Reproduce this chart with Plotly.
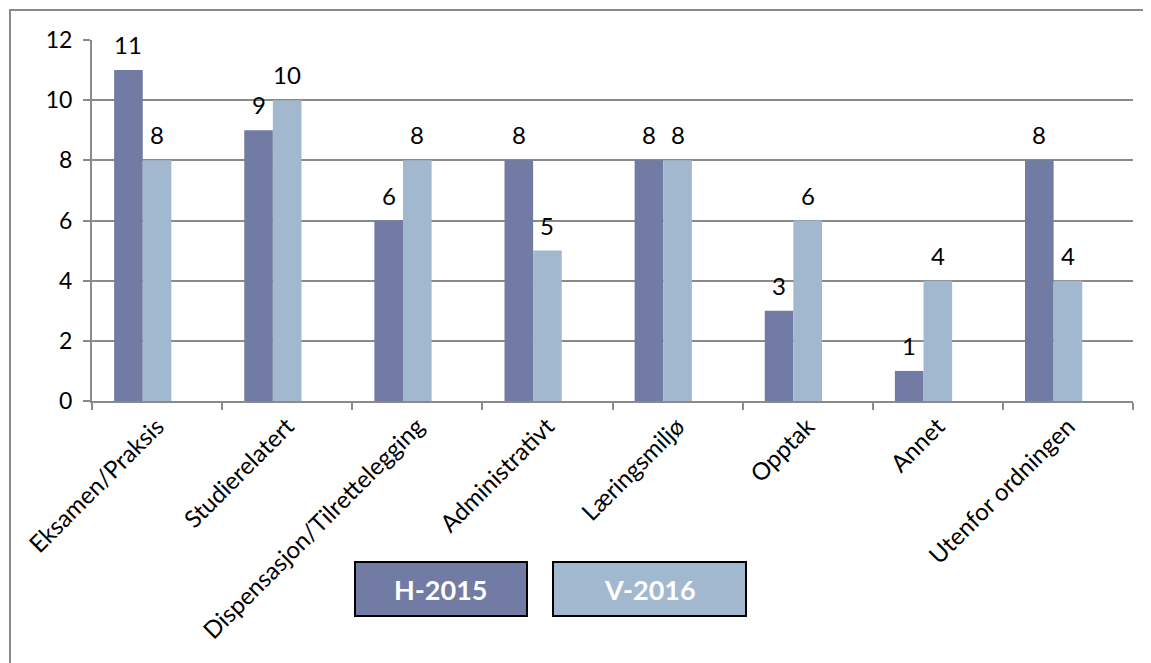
import plotly.graph_objects as go

categories = ["Eksamen/Praksis", "Studierelatert", "Dispensasjon/Tilrettelegging",
              "Administrativt", "Læringsmiljø", "Opptak", "Annet", "Utenfor ordningen"]
h2015 = [11, 9, 6, 8, 8, 3, 1, 8]
v2016 = [8, 10, 8, 5, 8, 6, 4, 4]
series_names = ["H-2015", "V-2016"]
y_ticks = [0, 2, 4, 6, 8, 10, 12]

C_H = "#717BA3"
C_V = "#A2B8CF"
GRID = "#8A8A8A"
FONT = "Lato"

OFF = 8  # page body margin
W, H = 1151 - OFF, 663 - OFF
l, r, t, b = 92 - OFF, 1151 - 1133, 40 - OFF, 663 - 401
pw, ph = W - l - r, H - t - b
cat_px = pw / len(categories)

BAR_W = 0.22
series = [(series_names[0], h2015, C_H, -0.33), (series_names[1], v2016, C_V, -0.11)]

fig = go.Figure()
for name, vals, col, off in series:
    fig.add_trace(go.Bar(
        x=categories, y=vals, name=name, marker=dict(color=col, line=dict(width=0)),
        width=BAR_W, offset=off, hoverinfo="x+y+name",
    ))
    shift = (off + BAR_W / 2) * cat_px
    for c, v in zip(categories, vals):
        fig.add_annotation(x=c, y=v, xref="x", yref="y", text=str(v), showarrow=False,
                           xshift=shift, yshift=9, yanchor="bottom", xanchor="center",
                           font=dict(family=FONT, size=24, color="black"))

def px(x):
    return (x - OFF - l) / pw

def py(y):
    return (401 - y) / ph

fig.update_layout(
    width=W, height=H, margin=dict(l=l, r=r, t=t, b=b),
    plot_bgcolor="white", paper_bgcolor="white",
    barmode="overlay",
    showlegend=False,
    font=dict(family=FONT, size=23, color="black"),
    xaxis=dict(showgrid=False, showline=True, linecolor=GRID, linewidth=2,
               ticks="outside", tickson="boundaries", ticklen=7, tickcolor=GRID, tickwidth=2,
               tickangle=-45, tickfont=dict(family=FONT, size=24, color="black")),
    yaxis=dict(range=[0, 12], tickvals=y_ticks, showgrid=True, gridcolor=GRID, gridwidth=2,
               showline=True, linecolor=GRID, linewidth=2, zeroline=False,
               ticks="outside", ticklen=7, tickcolor=GRID, tickwidth=2, ticklabelstandoff=6,
               tickfont=dict(family=FONT, size=23, color="black")),
)

# outer frame
fig.add_shape(type="rect", xref="paper", yref="paper",
              x0=px(10), x1=px(1170), y0=py(700), y1=py(10),
              line=dict(color=GRID, width=2), fillcolor="rgba(0,0,0,0)", layer="below")

# legend boxes
for name, col, x0, x1 in [(series_names[0], C_H, 355, 527), (series_names[1], C_V, 553, 746)]:
    fig.add_shape(type="rect", xref="paper", yref="paper",
                  x0=px(x0), x1=px(x1), y0=py(616), y1=py(562),
                  line=dict(color="black", width=2), fillcolor=col)
    fig.add_annotation(xref="paper", yref="paper", x=px((x0 + x1) / 2), y=py(589),
                       text="<b>" + name + "</b>", showarrow=False,
                       font=dict(family=FONT, size=27, color="white"),
                       xanchor="center", yanchor="middle")

fig.write_html("out.html")
